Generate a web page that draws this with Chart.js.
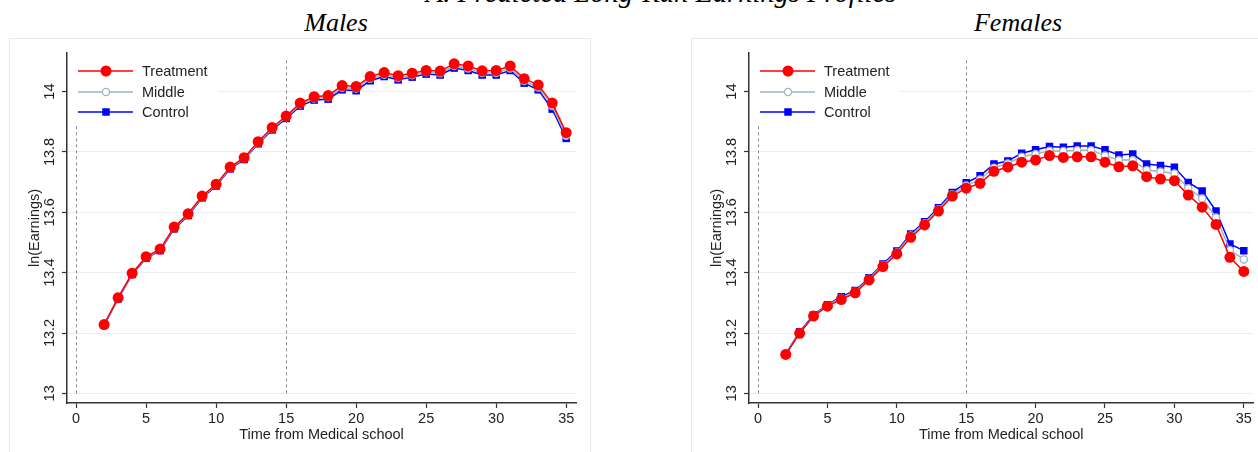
<!DOCTYPE html>
<html>
<head>
<meta charset="utf-8">
<script src="https://cdn.jsdelivr.net/npm/chart.js@4/dist/chart.umd.min.js"></script>
<style>
  html, body { margin: 0; padding: 0; background: #fff; overflow: hidden; width: 1258px; height: 452px; }
  .frame { position: absolute; border: 1px solid #e3eaee; background: #fff; }
  .ttl { position: absolute; font-family: "Liberation Serif", "Times New Roman", serif; font-style: italic;
         font-size: 26px; line-height: 26px; white-space: nowrap; color: #000; transform: translateX(-50%); }
  canvas { position: absolute; }
</style>
</head>
<body>
<div class="frame" style="left:9px;top:38px;width:580px;height:430px;"></div>
<div class="frame" style="left:691px;top:38px;width:600px;height:430px;"></div>
<div class="ttl" style="left:661px;top:-21px;font-size:28.5px;line-height:28.5px;">A. Predicted Long-Run Earnings Profiles</div>
<div class="ttl" style="left:336px;top:10px;">Males</div>
<div class="ttl" style="left:1018px;top:10px;">Females</div>
<canvas id="males" width="578" height="413" style="left:10px;top:39px;"></canvas>
<canvas id="females" width="566" height="413" style="left:693px;top:39px;"></canvas>
<script>
// Years since medical school
const years = [2,3,4,5,6,7,8,9,10,11,12,13,14,15,16,17,18,19,20,21,22,23,24,25,26,27,28,29,30,31,32,33,34,35];

// Predicted ln(earnings), males
const malesTreatment = [13.228,13.317,13.398,13.453,13.478,13.551,13.595,13.654,13.693,13.750,13.781,13.834,13.881,13.919,
  13.962,13.983,13.987,14.020,14.017,14.050,14.063,14.053,14.061,14.070,14.068,14.092,14.085,14.069,14.070,14.085,14.043,14.022,13.962,13.864];
const malesMiddle = [13.227,13.315,13.396,13.450,13.475,13.548,13.592,13.651,13.690,13.747,13.778,13.830,13.877,13.915,
  13.957,13.977,13.981,14.013,14.010,14.043,14.056,14.046,14.054,14.064,14.061,14.085,14.077,14.062,14.062,14.077,14.035,14.014,13.952,13.854];
const malesControl = [13.226,13.313,13.394,13.448,13.473,13.545,13.589,13.648,13.687,13.744,13.775,13.827,13.873,13.911,
  13.952,13.972,13.975,14.006,14.003,14.036,14.050,14.039,14.048,14.058,14.055,14.078,14.070,14.055,14.055,14.070,14.028,14.006,13.942,13.845];

// Predicted ln(earnings), females
const femalesTreatment = [13.129,13.199,13.256,13.289,13.311,13.333,13.376,13.420,13.462,13.517,13.558,13.604,13.654,13.680,
  13.696,13.736,13.750,13.766,13.773,13.788,13.782,13.784,13.784,13.766,13.751,13.754,13.718,13.710,13.705,13.657,13.617,13.560,13.451,13.404];
const femalesMiddle = [13.130,13.202,13.258,13.292,13.316,13.337,13.380,13.425,13.467,13.523,13.564,13.610,13.660,13.689,
  13.709,13.748,13.762,13.784,13.793,13.804,13.803,13.806,13.806,13.788,13.773,13.773,13.740,13.735,13.729,13.680,13.646,13.583,13.475,13.444];
const femalesControl = [13.131,13.204,13.260,13.294,13.320,13.341,13.383,13.429,13.472,13.528,13.569,13.615,13.666,13.698,
  13.721,13.760,13.770,13.796,13.807,13.818,13.816,13.820,13.820,13.807,13.790,13.793,13.760,13.755,13.749,13.699,13.671,13.604,13.495,13.473];

// Axis ticks and reference lines
const yTicks = [13, 13.2, 13.4, 13.6, 13.8, 14];
const xTicks = [0, 5, 10, 15, 20, 25, 30, 35];
const refLines = [0, 15];
const seriesNames = ['Treatment', 'Middle', 'Control'];

const SANS = '"Liberation Sans", Arial, sans-serif';
const TEXT = '#222';

function pts(ys) { return years.map((x, i) => ({ x: x, y: ys[i] })); }

const decor = {
  id: 'decor',
  beforeDatasetsDraw(chart) {
    const { ctx, scales: { x, y } } = chart;
    ctx.save();
    ctx.strokeStyle = '#8a8a8a';
    ctx.lineWidth = 1;
    ctx.setLineDash([3, 3]);
    refLines.forEach(v => {
      const px = Math.round(x.getPixelForValue(v)) + 0.5;
      ctx.beginPath();
      ctx.moveTo(px, y.getPixelForValue(13));
      ctx.lineTo(px, y.getPixelForValue(14.105));
      ctx.stroke();
    });
    ctx.restore();
  },
  afterDraw(chart) {
    const { ctx, chartArea: a, scales: { y } } = chart;
    ctx.save();
    ctx.fillStyle = TEXT;
    ctx.font = '14.5px ' + SANS;
    // y tick labels, rotated
    yTicks.forEach(v => {
      ctx.save();
      ctx.translate(a.left - 17, y.getPixelForValue(v));
      ctx.rotate(-Math.PI / 2);
      ctx.textAlign = 'center';
      ctx.textBaseline = 'middle';
      ctx.fillText(String(v), 0, 0);
      ctx.restore();
    });
    // y title
    ctx.save();
    ctx.translate(a.left - 32, (a.top + a.bottom) / 2);
    ctx.rotate(-Math.PI / 2);
    ctx.textAlign = 'center';
    ctx.textBaseline = 'middle';
    ctx.fillText('ln(Earnings)', 0, 0);
    ctx.restore();
    // x title
    ctx.textAlign = 'center';
    ctx.textBaseline = 'middle';
    ctx.fillText('Time from Medical school', (a.left + a.right) / 2, a.bottom + 32);

    // legend box inside the plot region
    ctx.fillStyle = '#fff';
    ctx.fillRect(a.left + 1, a.top, 150, 72);
    const rows = [18, 39, 59];
    chart.data.datasets.forEach((ds, i) => {
      const ry = a.top + rows[i];
      ctx.strokeStyle = ds.borderColor;
      ctx.lineWidth = 1.5;
      ctx.setLineDash([]);
      ctx.beginPath();
      ctx.moveTo(a.left + 11, ry);
      ctx.lineTo(a.left + 66, ry);
      ctx.stroke();
      const mx = a.left + 39;
      if (ds.pointStyle === 'rect') {
        const s = ds.pointRadius * Math.SQRT1_2;
        ctx.fillStyle = ds.pointBackgroundColor;
        ctx.fillRect(mx - s, ry - s, 2 * s, 2 * s);
      } else {
        ctx.beginPath();
        ctx.arc(mx, ry, ds.pointRadius, 0, Math.PI * 2);
        ctx.fillStyle = ds.pointBackgroundColor;
        ctx.fill();
        if (ds.pointBorderWidth) {
          ctx.lineWidth = ds.pointBorderWidth;
          ctx.strokeStyle = ds.pointBorderColor;
          ctx.stroke();
        }
      }
      ctx.fillStyle = TEXT;
      ctx.textAlign = 'left';
      ctx.textBaseline = 'middle';
      ctx.font = '14.5px ' + SANS;
      ctx.fillText(seriesNames[i], a.left + 75, ry + 1);
    });
    ctx.restore();
  }
};

function makeChart(id, tr, mid, ctl, yAxisWidth, padRight) {
  return new Chart(document.getElementById(id), {
    type: 'line',
    data: {
      datasets: [
        { label: seriesNames[0], data: pts(tr), borderColor: '#ff0000', backgroundColor: '#ff0000',
          pointBackgroundColor: '#ff0000', pointBorderColor: '#ff0000', pointRadius: 5.5, pointBorderWidth: 0,
          pointStyle: 'circle', borderWidth: 1.5 },
        { label: seriesNames[1], data: pts(mid), borderColor: '#9fb4bd', backgroundColor: '#ffffff',
          pointBackgroundColor: '#ffffff', pointBorderColor: '#9fb4bd', pointRadius: 3.6, pointBorderWidth: 1.3,
          pointStyle: 'circle', borderWidth: 1.5 },
        { label: seriesNames[2], data: pts(ctl), borderColor: '#0000ff', backgroundColor: '#0000ff',
          pointBackgroundColor: '#0000ff', pointBorderColor: '#0000ff', pointRadius: 5.3, pointBorderWidth: 0,
          pointStyle: 'rect', borderWidth: 1.5 }
      ]
    },
    options: {
      responsive: false,
      animation: false,
      devicePixelRatio: 1,
      layout: { padding: { top: 14, left: 0, right: padRight, bottom: 0 } },
      elements: { line: { tension: 0 } },
      plugins: { legend: { display: false }, tooltip: { enabled: false } },
      scales: {
        x: {
          type: 'linear', min: -0.65, max: 35.7,
          afterBuildTicks: s => { s.ticks = xTicks.map(v => ({ value: v })); },
          afterFit: s => { s.height = 49; },
          ticks: { color: TEXT, font: { family: SANS, size: 14.5 }, padding: 2, maxRotation: 0,
                   callback: v => String(v) },
          grid: { drawOnChartArea: false, drawTicks: true, tickLength: 5, tickColor: '#333', tickWidth: 1.2 },
          border: { display: true, color: '#333', width: 1.5 }
        },
        y: {
          type: 'linear', min: 12.968, max: 14.128,
          afterBuildTicks: s => { s.ticks = yTicks.map(v => ({ value: v })); },
          afterFit: s => { s.width = yAxisWidth; },
          ticks: { display: false },
          grid: { drawOnChartArea: true, color: '#e8eff2', lineWidth: 1, drawTicks: true, tickLength: 5,
                  tickColor: '#333', tickWidth: 1.2 },
          border: { display: true, color: '#333', width: 1.5 }
        }
      }
    },
    plugins: [decor]
  });
}

makeChart('males', malesTreatment, malesMiddle, malesControl, 57, 12);
makeChart('females', femalesTreatment, femalesMiddle, femalesControl, 56, 0);
</script>
</body>
</html>
